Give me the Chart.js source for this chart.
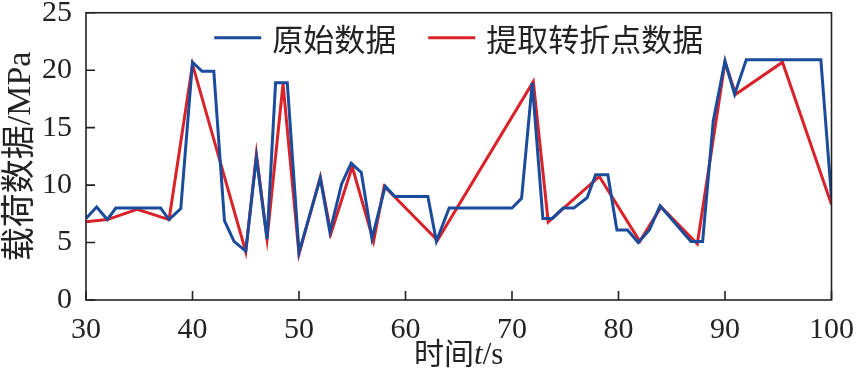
<!DOCTYPE html>
<html>
<head>
<meta charset="utf-8">
<script src="https://cdn.jsdelivr.net/npm/chart.js@4"></script>
<style>
  body { margin: 0; background: #fff; }
</style>
</head>
<body>
<canvas id="loadChart" width="861" height="369"></canvas>
<script>
// 原始数据
const rawTime = [30, 31, 32, 32.8, 37, 37.8, 38.9, 40, 40.9, 42, 43, 43.9, 45, 46, 47, 47.8, 48.9, 50,
  52, 52.9, 54, 54.9, 55.85, 56.85, 58.1, 59, 62.1, 62.9, 64.1, 70, 70.9, 71.9, 72.9, 73.8, 74.8, 75.8,
  77.05, 77.85, 79, 79.85, 80.85, 81.85, 82.9, 83.9, 86.8, 87.9, 88.9, 90, 90.9, 92, 99, 100];
const rawLoad = [7.1, 8.1, 7.0, 8.0, 8.0, 7.0, 7.95, 20.7, 19.9, 19.9, 6.9, 5.1, 4.25, 12.4, 5.3, 18.9, 18.9, 4.15,
  10.6, 5.9, 10.1, 11.9, 11.1, 5.35, 9.9, 9.0, 9.0, 5.1, 8.0, 8.0, 8.85, 18.9, 7.1, 7.1, 8.0, 8.0,
  8.9, 10.9, 10.9, 6.1, 6.1, 5.0, 6.1, 8.2, 5.1, 5.1, 15.6, 20.8, 17.9, 20.9, 20.9, 8.9];

// 提取转折点数据
const turnTime = [30, 32, 34.8, 37.8, 40, 45, 46, 47, 48.5, 50, 52, 53, 55, 57, 58, 63, 72, 73.4, 78.2,
  82, 84, 87.4, 90, 91, 95.4, 100];
const turnLoad = [6.8, 7.0, 7.9, 7.0, 20.5, 4.2, 12.7, 5.3, 18.8, 4.0, 10.7, 5.8, 11.6, 5.1, 9.9, 5.2, 19.0, 6.8, 10.75,
  5.1, 8.1, 4.9, 20.7, 17.9, 20.7, 8.3];

const seriesNames = ['原始数据', '提取转折点数据'];
const xTicks = [30, 40, 50, 60, 70, 80, 90, 100];
const yTicks = [0, 5, 10, 15, 20, 25];

const toPoints = (xs, ys) => xs.map((x, i) => ({ x: x, y: ys[i] }));

const BLUE = '#1b4b9b';
const RED = '#d9222a';
const AXIS = '#222';
const serif = '"Liberation Serif", "Times New Roman", "Noto Sans CJK SC", serif';
const cjk = '"Noto Sans CJK SC", sans-serif';

// рамка и внутренние засечки
const framePlugin = {
  id: 'frame',
  afterDraw(chart) {
    const { ctx, chartArea: a, scales } = chart;
    ctx.save();
    ctx.strokeStyle = AXIS;
    ctx.lineWidth = 1.6;
    ctx.strokeRect(a.left, a.top, a.right - a.left, a.bottom - a.top);
    ctx.beginPath();
    xTicks.forEach(v => {
      const px = scales.x.getPixelForValue(v);
      ctx.moveTo(px, a.bottom);
      ctx.lineTo(px, a.bottom - 9);
    });
    yTicks.forEach(v => {
      const py = scales.y.getPixelForValue(v);
      ctx.moveTo(a.left, py);
      ctx.lineTo(a.left + 9, py);
    });
    ctx.stroke();

    // подпись оси X: 时间 t/s (t курсивом)
    const parts = [
      { text: '时间', font: '30px ' + cjk },
      { text: 't', font: 'italic 31px ' + serif },
      { text: '/s', font: '31px ' + serif }
    ];
    let w = 0;
    parts.forEach(p => { ctx.font = p.font; p.w = ctx.measureText(p.text).width; w += p.w; });
    let x = (a.left + a.right) / 2 - w / 2;
    ctx.fillStyle = '#222';
    ctx.textBaseline = 'alphabetic';
    parts.forEach(p => { ctx.font = p.font; ctx.fillText(p.text, x, 364); x += p.w; });
    ctx.restore();
  }
};

// легенда внутри области графика, по центру сверху
const innerLegend = {
  id: 'innerLegend',
  afterDraw(chart) {
    const { ctx, chartArea: a } = chart;
    const sets = chart.data.datasets;
    const lineLen = 47, gap = 11, itemGap = 32;
    ctx.save();
    ctx.font = '31px ' + cjk;
    ctx.textBaseline = 'middle';
    const widths = sets.map(ds => ctx.measureText(ds.label).width);
    let total = 0;
    widths.forEach((w, i) => { total += lineLen + gap + w + (i ? itemGap : 0); });
    let x = (a.left + a.right) / 2 - total / 2;
    const y = a.top + 25;
    sets.forEach((ds, i) => {
      ctx.strokeStyle = ds.borderColor;
      ctx.lineWidth = 3;
      ctx.beginPath();
      ctx.moveTo(x, y);
      ctx.lineTo(x + lineLen, y);
      ctx.stroke();
      ctx.fillStyle = '#222';
      ctx.fillText(ds.label, x + lineLen + gap, y + 1);
      x += lineLen + gap + widths[i] + itemGap;
    });
    ctx.restore();
  }
};

new Chart(document.getElementById('loadChart'), {
  type: 'line',
  data: {
    datasets: [{
      label: seriesNames[0],
      data: toPoints(rawTime, rawLoad),
      borderColor: BLUE,
      backgroundColor: BLUE,
      borderWidth: 3,
      pointRadius: 0,
      tension: 0
    }, {
      label: seriesNames[1],
      data: toPoints(turnTime, turnLoad),
      borderColor: RED,
      backgroundColor: RED,
      borderWidth: 3,
      pointRadius: 0,
      tension: 0
    }]
  },
  options: {
    responsive: false,
    animation: false,
    layout: { padding: { top: 0, right: 24, left: 0, bottom: 0 } },
    plugins: {
      tooltip: { enabled: false },
      legend: { display: false }
    },
    scales: {
      x: {
        type: 'linear',
        min: 30,
        max: 100,
        afterFit(scale) { scale.height = 69; },
        afterBuildTicks(scale) { scale.ticks = xTicks.map(v => ({ value: v })); },
        grid: { display: false },
        border: { display: false },
        ticks: { padding: 7, color: '#222', font: { family: serif, size: 30, lineHeight: 1 } }
      },
      y: {
        min: 0,
        max: 25,
        afterFit(scale) { scale.width = 86; },
        afterBuildTicks(scale) { scale.ticks = yTicks.map(v => ({ value: v })); },
        grid: { display: false },
        border: { display: false },
        ticks: { padding: 6, color: '#222', font: { family: serif, size: 30, lineHeight: 0.45 } },
        title: {
          display: true,
          text: '载荷数据/MPa',
          color: '#222',
          padding: { top: 4, bottom: 0 },
          font: { family: serif, size: 34, lineHeight: 1 }
        }
      }
    }
  },
  plugins: [framePlugin, innerLegend]
});
</script>
</body>
</html>
